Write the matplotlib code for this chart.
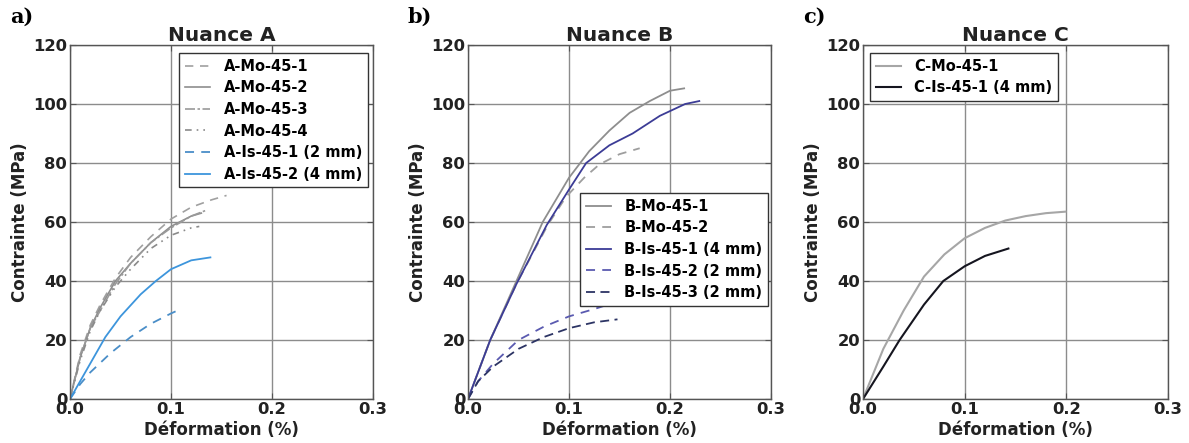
import matplotlib
matplotlib.use("Agg")
import matplotlib.pyplot as plt

plt.rcParams['font.family'] = ['DejaVu Sans']

# ---- data ----
A_mo1_x = [0, 0.01, 0.02, 0.03, 0.045, 0.06, 0.08, 0.10, 0.12, 0.14, 0.155]
A_mo1_y = [0, 15, 25, 32, 41, 48, 55, 61, 65, 67.5, 69]
A_mo2_x = [0, 0.01, 0.02, 0.03, 0.045, 0.06, 0.08, 0.10, 0.12, 0.13]
A_mo2_y = [0, 14, 24, 31, 40, 46, 53, 58.5, 62, 63]
A_mo3_x = [0, 0.01, 0.02, 0.03, 0.045, 0.06, 0.08, 0.10, 0.12, 0.135]
A_mo3_y = [0, 14, 24, 30, 39, 46, 53, 58, 62, 64]
A_mo4_x = [0, 0.01, 0.02, 0.03, 0.045, 0.06, 0.08, 0.10, 0.12, 0.128]
A_mo4_y = [0, 13, 23, 30, 38, 44, 51, 55.5, 58, 58.5]
A_is1_x = [0, 0.01, 0.02, 0.04, 0.06, 0.08, 0.10, 0.111]
A_is1_y = [0, 5, 9, 15.5, 21, 25.5, 29, 30.7]
A_is2_x = [0, 0.01, 0.02, 0.035, 0.05, 0.07, 0.085, 0.10, 0.12, 0.139]
A_is2_y = [0, 6, 12, 21, 28, 35.5, 40, 44, 47, 48]

B_mo1_x = [0, 0.022, 0.048, 0.074, 0.10, 0.12, 0.14, 0.16, 0.18, 0.20, 0.214]
B_mo1_y = [0, 20, 40, 60, 75, 84, 91, 97, 101, 104.5, 105.3]
B_mo2_x = [0, 0.022, 0.048, 0.079, 0.097, 0.115, 0.13, 0.15, 0.17]
B_mo2_y = [0, 20, 39, 59, 68.5, 75, 79.5, 83, 85]
B_is1_x = [0, 0.022, 0.048, 0.078, 0.10, 0.117, 0.14, 0.163, 0.19, 0.215, 0.229]
B_is1_y = [0, 20, 39, 59, 71, 80, 86, 90, 96, 100, 101]
B_is2_x = [0, 0.01, 0.025, 0.05, 0.075, 0.10, 0.125, 0.148]
B_is2_y = [0, 6, 12, 20, 24.5, 28, 30.5, 33]
B_is3_x = [0, 0.01, 0.025, 0.05, 0.075, 0.10, 0.125, 0.148]
B_is3_y = [0, 6, 11, 17, 21, 24, 26, 27]

C_mo1_x = [0, 0.02, 0.04, 0.06, 0.08, 0.10, 0.12, 0.14, 0.16, 0.18, 0.199]
C_mo1_y = [0, 17, 30, 41.5, 49, 54.5, 58, 60.5, 62, 63, 63.5]
C_is1_x = [0, 0.02, 0.036, 0.06, 0.079, 0.10, 0.12, 0.143]
C_is1_y = [0, 11, 20, 32, 40, 45, 48.5, 51]

titles = ["Nuance A", "Nuance B", "Nuance C"]
panel_labels = ["a)", "b)", "c)"]
xticks = [0.0, 0.1, 0.2, 0.3]
yticks = [0, 20, 40, 60, 80, 100, 120]

W, H = 1189, 443
fig = plt.figure(figsize=(W / 100, H / 100), dpi=100)

boxes = [(70, 303), (468, 303), (863, 305)]
top_px, bot_px = 45, 399
axes = []
for (l, w) in boxes:
    ax = fig.add_axes([l / W, (H - bot_px) / H, w / W, (bot_px - top_px) / H])
    axes.append(ax)

def style(ax, title):
    ax.set_xlim(0, 0.3)
    ax.set_ylim(0, 120)
    ax.set_xticks(xticks)
    ax.set_xticklabels([f"{t:.1f}" for t in xticks])
    ax.set_yticks(yticks)
    ax.grid(True, color="#8c8c8c", lw=1.0, ls="-")
    ax.set_axisbelow(True)
    ax.tick_params(direction="in", top=True, right=True, length=4,
                   color="#555555", labelsize=11.8, pad=2)
    for lab in ax.get_xticklabels() + ax.get_yticklabels():
        lab.set_fontweight("bold")
        lab.set_color("#222222")
    for s in ax.spines.values():
        s.set_color("#555555")
        s.set_linewidth(1.0)
    ax.set_xlabel("Déformation (%)", fontsize=12, fontweight="bold", labelpad=3, color="#222222")
    ax.set_ylabel("Contrainte (MPa)", fontsize=12, fontweight="bold", labelpad=3, color="#222222")
    ax.set_title(title, fontsize=14.5, fontweight="bold", pad=3, color="#222222")

gray = "#8e8e8e"
axA, axB, axC = axes
axA.plot(A_mo1_x, A_mo1_y, color="#a0a0a0", ls=(0, (5, 4)), lw=1.2, label="A-Mo-45-1")
axA.plot(A_mo2_x, A_mo2_y, color=gray, ls="-", lw=1.2, label="A-Mo-45-2")
axA.plot(A_mo3_x, A_mo3_y, color="#9a9a9a", ls=(0, (6, 1.5, 1.5, 1.5)), lw=1.2, label="A-Mo-45-3")
axA.plot(A_mo4_x, A_mo4_y, color="#8a8a8a", ls=(0, (4, 3, 1, 3, 1, 3)), lw=1.2, label="A-Mo-45-4")
axA.plot(A_is1_x, A_is1_y, color="#4a8ec8", ls=(0, (5, 4)), lw=1.3, label="A-Is-45-1 (2 mm)")
axA.plot(A_is2_x, A_is2_y, color="#3d95dc", ls="-", lw=1.3, label="A-Is-45-2 (4 mm)")

axB.plot(B_mo1_x, B_mo1_y, color=gray, ls="-", lw=1.3, label="B-Mo-45-1")
axB.plot(B_mo2_x, B_mo2_y, color="#9e9e9e", ls=(0, (5, 4)), lw=1.3, label="B-Mo-45-2")
axB.plot(B_is1_x, B_is1_y, color="#3c3c96", ls="-", lw=1.3, label="B-Is-45-1 (4 mm)")
axB.plot(B_is2_x, B_is2_y, color="#5a5ab0", ls=(0, (5, 4)), lw=1.3, label="B-Is-45-2 (2 mm)")
axB.plot(B_is3_x, B_is3_y, color="#2c3464", ls=(0, (5, 3)), lw=1.3, label="B-Is-45-3 (2 mm)")

axC.plot(C_mo1_x, C_mo1_y, color="#a6a6a6", ls="-", lw=1.5, label="C-Mo-45-1")
axC.plot(C_is1_x, C_is1_y, color="#15151f", ls="-", lw=1.5, label="C-Is-45-1 (4 mm)")

for ax, t in zip(axes, titles):
    style(ax, t)

leg_kw = dict(handlelength=1.7, handletextpad=0.95, borderpad=0.4, borderaxespad=0,
              labelspacing=0.45, fancybox=False, framealpha=1, edgecolor="#333333",
              prop={"family": "DejaVu Sans", "weight": "bold", "size": 10.5})
la = axA.legend(loc="upper right", bbox_to_anchor=((368 - 70) / 303, (399 - 53) / 354), **leg_kw)
lb = axB.legend(loc="upper left", bbox_to_anchor=((580 - 468) / 303, (399 - 193) / 354), **leg_kw)
lc = axC.legend(loc="upper left", bbox_to_anchor=((870 - 863) / 305, (399 - 53) / 354), **leg_kw)
for lg in (la, lb, lc):
    lg.get_frame().set_linewidth(1.0)

for ax, lab in zip(axes, panel_labels):
    pos = ax.get_position()
    fig.text(pos.x0 - 60 / W, 1 - 7 / H, lab, family="DejaVu Serif", fontweight="bold",
             fontsize=15, va="top", ha="left")

fig.savefig("out.png", dpi=100)
